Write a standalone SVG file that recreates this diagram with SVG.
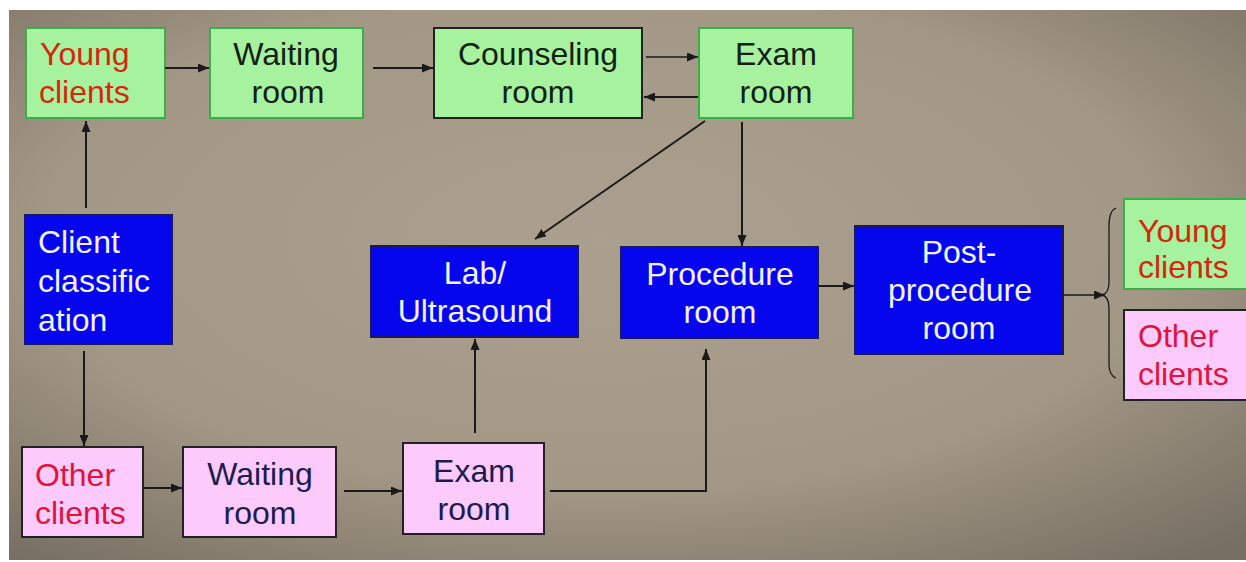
<svg xmlns="http://www.w3.org/2000/svg" width="1246" height="562" viewBox="0 0 1246 562">
<defs>
<radialGradient id="bg" cx="0.48" cy="0.42" r="0.75">
<stop offset="0" stop-color="#ab9f8f"/>
<stop offset="0.6" stop-color="#a39785"/>
<stop offset="1" stop-color="#776f63"/>
</radialGradient>
<marker id="ah" markerUnits="userSpaceOnUse" markerWidth="11" markerHeight="9" refX="11" refY="4.5" orient="auto">
<path d="M0,0 L11,4.5 L0,9 z" fill="#1a1a1a"/>
</marker>
<style>
.t{font-family:"Liberation Sans",Arial,sans-serif;font-size:32px}
.g{fill:#a6f29e;stroke:#3aae48;stroke-width:2}
.gd{fill:#a6f29e;stroke:#222;stroke-width:2}
.p{fill:#fccbfb;stroke:#222;stroke-width:2}
.b{fill:#0505ee;stroke:#1a1a5a;stroke-width:2}
.tg{fill:#132013}
.tp{fill:#1c1c50}
.tw{fill:#f2f2ff}
.ty{fill:#d6260e}
.to{fill:#e0133c}
.c{stroke:#1a1a1a;stroke-width:2;fill:none}
.ct{stroke:#1a1a1a;stroke-width:1.3;fill:none}
</style>
</defs>
<rect x="0" y="0" width="1246" height="562" fill="#ffffff"/>
<rect x="9" y="10" width="1237" height="550" fill="url(#bg)"/>

<g id="young-top">
<rect class="g" x="26" y="28" width="139" height="90"/>
<text class="t ty" x="40" y="65">Young</text>
<text class="t ty" x="39" y="103">clients</text>
</g>
<g id="waiting-top">
<rect class="g" x="210" y="28" width="153" height="90"/>
<text class="t tg" x="286" y="65" text-anchor="middle">Waiting</text>
<text class="t tg" x="288" y="103" text-anchor="middle">room</text>
</g>
<g id="counseling">
<rect class="gd" x="434" y="28" width="208" height="90"/>
<text class="t tg" x="538" y="65" text-anchor="middle">Counseling</text>
<text class="t tg" x="538" y="103" text-anchor="middle">room</text>
</g>
<g id="exam-top">
<rect class="g" x="699" y="28" width="154" height="90"/>
<text class="t tg" x="776" y="65" text-anchor="middle">Exam</text>
<text class="t tg" x="776" y="103" text-anchor="middle">room</text>
</g>
<g id="client-classification">
<rect class="b" x="25" y="215" width="147" height="129"/>
<text class="t tw" x="38" y="253">Client</text>
<text class="t tw" x="38" y="292">classific</text>
<text class="t tw" x="38" y="331">ation</text>
</g>
<g id="lab">
<rect class="b" x="371" y="246" width="207" height="91"/>
<text class="t tw" x="475" y="284" text-anchor="middle">Lab/</text>
<text class="t tw" x="475" y="322" text-anchor="middle">Ultrasound</text>
</g>
<g id="procedure">
<rect class="b" x="621" y="247" width="197" height="91"/>
<text class="t tw" x="720" y="285" text-anchor="middle">Procedure</text>
<text class="t tw" x="720" y="323" text-anchor="middle">room</text>
</g>
<g id="post-procedure">
<rect class="b" x="855" y="226" width="208" height="128"/>
<text class="t tw" x="959" y="263" text-anchor="middle">Post-</text>
<text class="t tw" x="960" y="301" text-anchor="middle">procedure</text>
<text class="t tw" x="959" y="339" text-anchor="middle">room</text>
</g>
<g id="young-right">
<rect class="g" x="1124" y="199" width="130" height="90"/>
<text class="t ty" x="1138" y="242">Young</text>
<text class="t ty" x="1138" y="278">clients</text>
</g>
<g id="other-right">
<rect class="p" x="1124" y="310" width="130" height="90"/>
<text class="t to" x="1138" y="347">Other</text>
<text class="t to" x="1138" y="385">clients</text>
</g>
<g id="other-bottom">
<rect class="p" x="22" y="447" width="121" height="90"/>
<text class="t to" x="35" y="486">Other</text>
<text class="t to" x="35" y="524">clients</text>
</g>
<g id="waiting-bottom">
<rect class="p" x="183" y="447" width="153" height="90"/>
<text class="t tp" x="260" y="485" text-anchor="middle">Waiting</text>
<text class="t tp" x="260" y="524" text-anchor="middle">room</text>
</g>
<g id="exam-bottom">
<rect class="p" x="403" y="443" width="141" height="91"/>
<text class="t tp" x="474" y="482" text-anchor="middle">Exam</text>
<text class="t tp" x="474" y="520" text-anchor="middle">room</text>
</g>

<g id="connectors">
<path class="c" d="M165,68 H209" marker-end="url(#ah)"/>
<path class="c" d="M373,68 H433" marker-end="url(#ah)"/>
<path class="ct" d="M646,57 H698" marker-end="url(#ah)"/>
<path class="c" d="M698,97 H644" marker-end="url(#ah)"/>
<path class="c" d="M705,121 L535,239" marker-end="url(#ah)"/>
<path class="c" d="M742,122 V246" marker-end="url(#ah)"/>
<path class="c" d="M86,208 V121" marker-end="url(#ah)"/>
<path class="c" d="M84,351 V446" marker-end="url(#ah)"/>
<path class="c" d="M143,488 H182" marker-end="url(#ah)"/>
<path class="c" d="M344,491 H402" marker-end="url(#ah)"/>
<path class="c" d="M475,433 V339" marker-end="url(#ah)"/>
<path class="c" d="M550,491 H706 V349" marker-end="url(#ah)"/>
<path class="c" d="M818,286 H854" marker-end="url(#ah)"/>
<path class="ct" d="M1063,295 H1105" marker-end="url(#ah)"/>
<path class="ct" d="M1116,208 C1111,210 1109,216 1109,226 L1109,282 C1109,290 1107,294 1102,295 C1107,296 1109,300 1109,308 L1109,364 C1109,372 1111,376 1116,378"/>
</g>
</svg>
